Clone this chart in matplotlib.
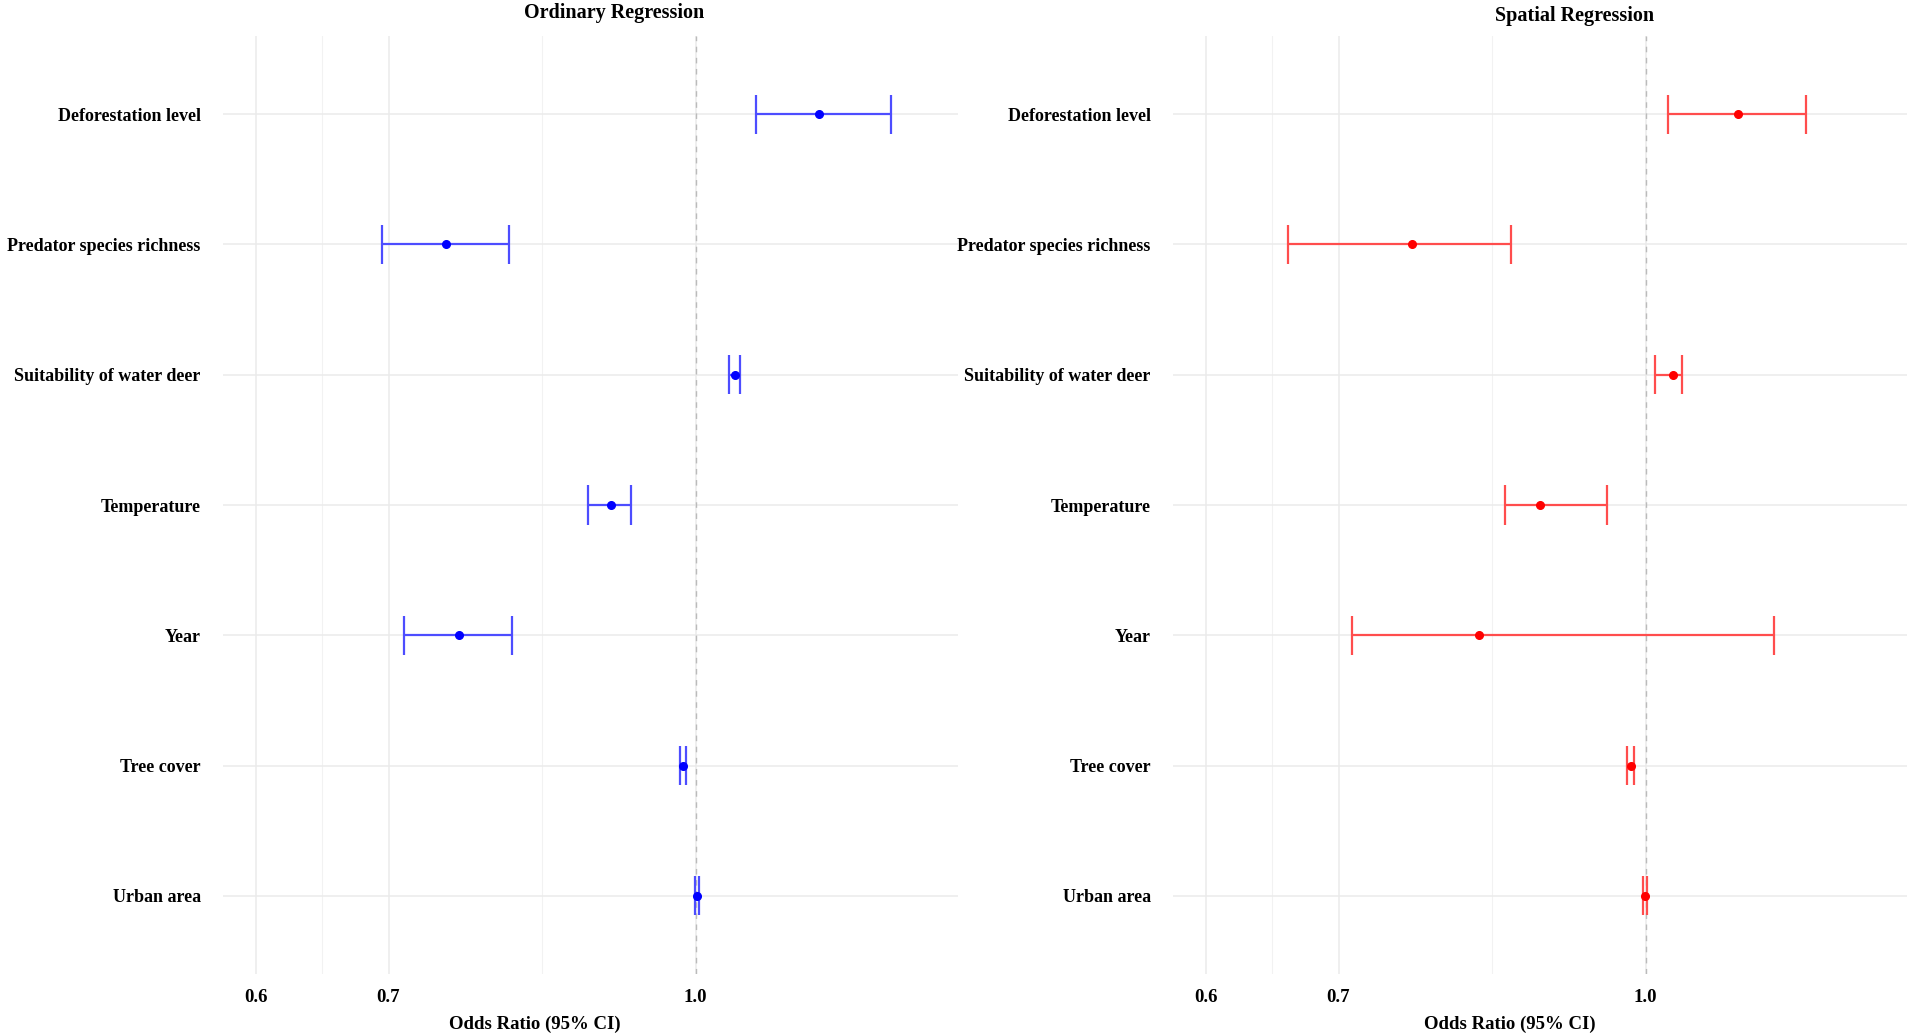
import numpy as np
import matplotlib.pyplot as plt

plt.rcParams['font.family'] = ['Liberation Serif', 'DejaVu Serif']
plt.rcParams['font.weight'] = 'bold'

# predictors, top to bottom
variables = ['Deforestation level', 'Predator species richness', 'Suitability of water deer',
             'Temperature', 'Year', 'Tree cover', 'Urban area']

# ordinary regression: odds ratio and 95% CI
ord_or = [1.154, 0.748, 1.047, 0.906, 0.760, 0.985, 1.001]
ord_lo = [1.073, 0.695, 1.040, 0.882, 0.713, 0.982, 0.999]
ord_hi = [1.254, 0.805, 1.053, 0.928, 0.808, 0.989, 1.004]

# spatial regression
sp_or = [1.113, 0.762, 1.032, 0.885, 0.824, 0.983, 0.999]
sp_lo = [1.026, 0.660, 1.011, 0.849, 0.711, 0.978, 0.997]
sp_hi = [1.205, 0.855, 1.043, 0.956, 1.161, 0.987, 1.001]

x_breaks = [0.6, 0.7, 1.0]
x_labels = ['0.6', '0.7', '1.0']

W, H = 1907, 1036
fig = plt.figure(figsize=(W / 100, H / 100), dpi=100)


def draw_panel(left_px, lo, est, hi, point_col, bar_col, title, title_x, title_y, xlab_x):
    ax = fig.add_axes([left_px / W, (H - 974) / H, 735 / W, 938 / H])
    ypos = np.arange(len(variables), 0, -1)
    ax.set_xscale('log')
    ax.set_xlim(0.5776, 1.356)
    ax.set_ylim(0.4, len(variables) + 0.6)

    # grid like theme_minimal
    minor = [np.sqrt(a * b) for a, b in zip(x_breaks[:-1], x_breaks[1:])]
    ax.set_xticks(x_breaks)
    ax.set_xticklabels(x_labels)
    ax.set_xticks(minor, minor=True)
    ax.xaxis.set_minor_formatter(plt.NullFormatter())
    ax.set_yticks(ypos)
    ax.set_yticklabels(variables)
    ax.grid(which='major', color='#EBEBEB', lw=1.1)
    ax.grid(which='minor', axis='x', color='#F2F2F2', lw=0.8)
    ax.set_axisbelow(True)
    for s in ax.spines.values():
        s.set_visible(False)
    ax.tick_params(which='both', length=0)
    ax.tick_params(axis='x', pad=11, labelsize=13.5)
    ax.tick_params(axis='y', pad=16, labelsize=13)

    ax.axvline(1.0, color='#BBBBBB', lw=1.0, ls=(0, (4, 4)), zorder=1)

    # error bars
    ax.hlines(ypos, lo, hi, color=bar_col, lw=1.6, zorder=2)
    ax.vlines(lo, ypos - 0.15, ypos + 0.15, color=bar_col, lw=1.6, zorder=2)
    ax.vlines(hi, ypos - 0.15, ypos + 0.15, color=bar_col, lw=1.6, zorder=2)
    ax.plot(est, ypos, 'o', color=point_col, ms=5.5, zorder=3)

    fig.text(title_x / W, 1 - title_y / H, title, ha='center', va='baseline',
             fontsize=14.5, fontweight='bold')
    fig.text(xlab_x / W, 1 - 1024 / H, 'Odds Ratio (95% CI)', ha='center', va='center',
             fontsize=13.5, fontweight='bold')
    return ax


draw_panel(223, ord_lo, ord_or, ord_hi, '#0000FF', '#4D4DFF',
           'Ordinary Regression', 614, 18, 535)
draw_panel(1173, sp_lo, sp_or, sp_hi, '#FF0000', '#FF4D4D',
           'Spatial Regression', 1575, 21, 1510)

fig.savefig('out.png', dpi=100, facecolor='white')
